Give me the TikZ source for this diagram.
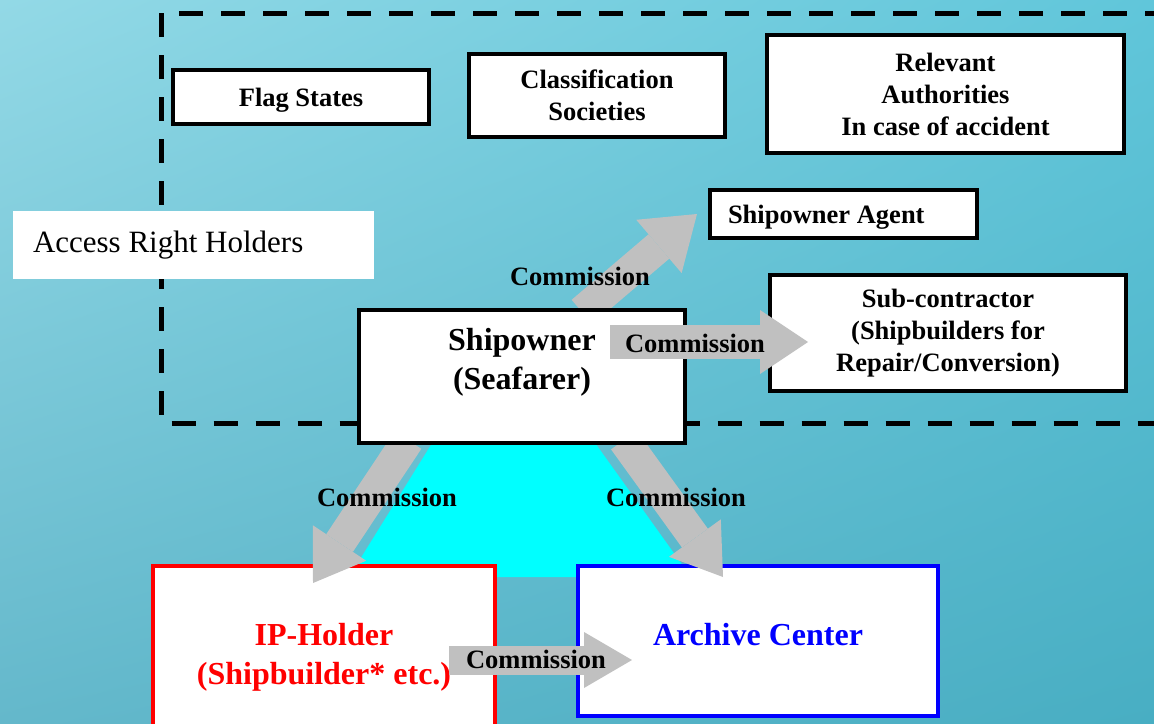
\documentclass[tikz,border=0pt]{standalone}
\usepackage{fontspec}
\setmainfont{Liberation Serif}
\usetikzlibrary{arrows.meta,positioning,shadings}

\definecolor{silver}{HTML}{C0C0C0}
\definecolor{aqua}{HTML}{00FFFF}
\definecolor{seaUL}{HTML}{93D9E6}
\definecolor{seaUR}{HTML}{60C6DA}
\definecolor{seaLL}{HTML}{64B8CB}
\definecolor{seaLR}{HTML}{48AEC3}

\tikzset{
  box/.style={draw=black, line width=4pt, fill=white, inner sep=0pt, align=center,
    font=\bfseries\fontsize{26.5}{32}\selectfont},
  bigtext/.style={align=center, inner sep=0pt, font=\bfseries\fontsize{32}{39}\selectfont},
  commission/.style={draw=silver, line width=32pt,
    -{Triangle[length=48pt,width=64pt,line width=0pt]}},
  tag/.style={inner sep=0pt, font=\bfseries\fontsize{26.5}{32}\selectfont},
}

\begin{document}
\begin{tikzpicture}[x=1pt,y=-1pt]
  \clip (0,0) rectangle (1154,723);
  \shade[upper left=seaUL, upper right=seaUR, lower left=seaLL, lower right=seaLR]
    (0,0) rectangle (1154,723);

  % triangle under the shipowner
  \fill[aqua] (434,440) -- (593,440) -- (691,577) -- (349,577) -- cycle;

  % access right holders
  \draw[line width=5pt, dash pattern=on 24pt off 18pt] (161.5,13) rectangle (1200,423);
  \node[fill=white, inner xsep=20pt, inner ysep=0pt, minimum width=361pt, minimum height=68pt,
        text width=321pt, align=flush left, font=\fontsize{31}{37}\selectfont]
        (access) at (193.5,245) {Access Right Holders};

  \node[box, minimum width=256pt, minimum height=54pt, text depth=0pt] (flag) at (301,97) {Flag States};
  \node[box, minimum width=256pt, minimum height=83pt]  (class) at (597,95.5) {Classification\\Societies};
  \node[box, minimum width=357pt, minimum height=118pt] (authority) at (945.5,94)
        {Relevant\\Authorities\\In case of accident};
  \node[box, minimum width=267pt, minimum height=48pt, text depth=0pt, inner xsep=18pt,
        text width=231pt, align=flush left] (agent) at (843.5,214) {Shipowner Agent};
  \node[box, minimum width=356pt, minimum height=116pt] (subcon) at (948,333)
        {Sub-contractor\\(Shipbuilders for\\Repair/Conversion)};

  % commissioned parties
  \node[box, draw=red, minimum width=342pt, minimum height=182pt,
        label={[bigtext, red]center:IP-Holder\\(Shipbuilder* etc.)}] (holder) at (324,657) {};
  \node[box, draw=blue, minimum width=360pt, minimum height=150pt,
        label={[bigtext, blue, yshift=6.5pt]center:Archive Center}] (archive) at (758,641) {};

  \coordinate (agentIn)   at (697,214);
  \coordinate (holderIn)  at (313,583);
  \coordinate (archiveIn) at (723,577);
  \coordinate (subconIn)  at (808,342);
  \coordinate (archiveL)  at (632,660);

  \draw[commission, -{Triangle[length=50pt,width=70pt,line width=0pt]}] (582,312) -- (agentIn);
  \draw[commission] (408,440) -- (holderIn);
  \draw[commission] (624,440) -- (archiveIn);

  \node[box, minimum width=326pt, minimum height=133pt,
        label={[bigtext, yshift=14.5pt]center:Shipowner\\(Seafarer)}] (owner) at (522,376.5) {};

  \draw[commission, line width=34pt] (610,342) -- (subconIn);
  \draw[commission, line width=29pt, -{Triangle[length=48pt,width=56pt,line width=0pt]}]
    (449,660) -- (archiveL);

  \node[tag] (c1) at (580,276) {Commission};
  \node[tag] (c2) at (695,343) {Commission};
  \node[tag] (c3) at (387,497) {Commission};
  \node[tag] (c4) at (676,497) {Commission};
  \node[tag] (c5) at (536,659) {Commission};
\end{tikzpicture}
\end{document}
